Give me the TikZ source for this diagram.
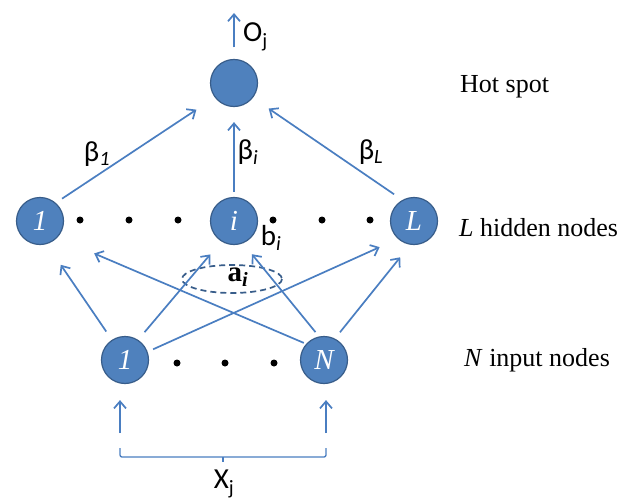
\documentclass[tikz,border=0pt]{standalone}
\usepackage{fontspec}
\setmainfont{Liberation Serif}
\newfontfamily\calib{Carlito}
\usetikzlibrary{arrows.meta}
\definecolor{nodefill}{RGB}{79,129,189}
\definecolor{nodeline}{RGB}{56,93,138}
\definecolor{edgecol}{RGB}{74,126,193}
\begin{document}
\begin{tikzpicture}[x=1pt,y=-1pt,
  neuron/.style={circle, fill=nodefill, draw=nodeline, line width=1.2pt, minimum size=47pt, inner sep=0pt, text=white, font=\fontsize{29}{29}\selectfont\itshape},
  conn/.style={draw=edgecol, line width=1.7pt, -{Straight Barb[length=7pt,width=12pt,line width=1.7pt]}},
  sanslbl/.style={font=\calib\fontsize{29}{29}\selectfont, inner sep=0pt},
  serlbl/.style={font=\fontsize{26}{26}\selectfont, anchor=west, inner sep=0pt},
  blackdot/.style={circle, fill=black, minimum size=7pt, inner sep=0pt}]
\useasboundingbox (0,0) rectangle (637,503);
\fill[white] (0,0) rectangle (637,503);
% nodes
\node[neuron] (out) at (234,83) {};
\node[neuron] (h1) at (40,221) {1};
\node[neuron] (hi) at (234,221) {i};
\node[neuron] (hL) at (414,221) {L};
\node[neuron] (in1) at (125,360) {1};
\node[neuron] (inN) at (324,360) {N};
% dots
\foreach \x/\n in {80/a,129/b,178/c,273/d,322/e,370/f} \node[blackdot] (hd\n) at (\x,220) {};
\foreach \x/\n in {177/a,225/b,274/c} \node[blackdot] (id\n) at (\x,363) {};
% dashed ellipse
\draw[nodeline, dash pattern=on 6pt off 4pt, line width=1.7pt] (232,279) ellipse [x radius=50, y radius=14];
% hidden -> out
\draw[conn, shorten <=7.5pt, shorten >=22pt] (h1.49) -- (out.217);
\draw[conn, shorten <=5pt, shorten >=15pt] (hi.90) -- (out.270);
\draw[conn, shorten <=10pt, shorten >=19pt] (hL.119) -- (out.-38);
% input -> hidden
\draw[conn, shorten <=10pt, shorten >=25pt] (in1.123) -- (h1.-74);
\draw[conn, shorten <=10pt, shorten >=17pt] (in1.57) -- (hi.238);
\draw[conn, shorten <=6pt, shorten >=20pt] (in1.20) -- (hL.228);
\draw[conn, shorten <=2.5pt, shorten >=40pt] (inN.138) -- (h1.-44);
\draw[conn, shorten <=5.6pt, shorten >=14pt] (inN.102) -- (hi.-68);
\draw[conn, shorten <=8pt, shorten >=16pt] (inN.63) -- (hL.261);
% output arrow
\coordinate (otop) at (234,13);
\draw[conn, shorten <=11.5pt] (out.north) -- (otop);
% input arrows
\coordinate (x1b) at (120,433);
\coordinate (xNb) at (326,433);
\draw[conn, shorten >=16pt] (x1b) -- (x1b |- in1.south);
\draw[conn, shorten >=16pt] (xNb) -- (xNb |- inN.south);
% brace
\coordinate (bl) at (120,448);
\coordinate (br) at (326,448);
\coordinate (bm) at (223,462);
\draw[edgecol, line width=1.3pt, rounded corners=2pt] (bl) -- (120,457) -- (326,457) -- (br);
\draw[edgecol, line width=1.3pt] (223,457) -- (bm);
% labels
\node[sanslbl, anchor=west] (olbl) at (243,37) {O\textsubscript{j}};
\node[sanslbl] (xlbl) at (224,484) {X\textsubscript{j}};
\node[sanslbl] (b1) at (97,154) {β\textsubscript{\itshape 1}};
\node[sanslbl] (bi) at (248,152) {β\textsubscript{\itshape i}};
\node[sanslbl] (bL) at (371,152) {β\textsubscript{\itshape L}};
\node[sanslbl] (bias) at (271,238) {b\textsubscript{\itshape i}};
\node[font=\fontsize{29}{29}\selectfont\bfseries, inner sep=0pt] (alpha) at (238,277) {a\textsubscript{\itshape i}};
\node[serlbl] (hot) at (460,87) {Hot spot};
\node[serlbl] (hid) at (459,228) {\textit{L} hidden nodes};
\node[serlbl] (inp) at (464,360) {\textit{N} input nodes};
\end{tikzpicture}
\end{document}
